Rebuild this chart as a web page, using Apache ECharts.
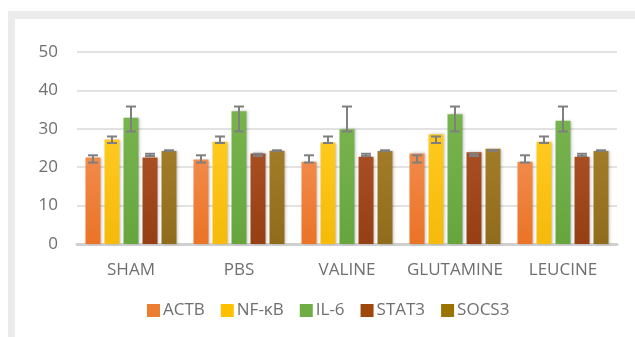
<!DOCTYPE html>
<html>
<head>
<meta charset="utf-8">
<script src="https://cdn.jsdelivr.net/npm/echarts@6/dist/echarts.min.js"></script>
<style>
  html, body { margin: 0; padding: 0; background: #fff; }
  #chart { width: 635px; height: 337px; }
</style>
</head>
<body>
<div id="chart"></div>
<script>
// 分组
var categories = ['SHAM', 'PBS', 'VALINE', 'GLUTAMINE', 'LEUCINE'];
// 系列名称
var seriesNames = ['ACTB', 'NF-κB', 'IL-6', 'STAT3', 'SOCS3'];
// 各系列数值
var actb  = [22.5, 22.0, 21.4, 23.6, 21.4];
var nfkb  = [27.2, 26.6, 26.4, 28.6, 26.6];
var il6   = [32.9, 34.6, 29.9, 33.8, 32.1];
var stat3 = [22.5, 23.6, 22.7, 23.9, 22.7];
var socs3 = [24.2, 24.3, 24.2, 24.8, 24.2];
// 误差线（下端 / 上端）
var actbLow  = [21.2, 21.2, 21.2, 21.2, 21.2];
var actbHigh = [23.1, 23.1, 23.1, 23.1, 23.1];
var nfkbLow  = [26.3, 26.3, 26.3, 26.3, 26.3];
var nfkbHigh = [28.0, 28.0, 28.0, 28.0, 28.0];
var il6Low   = [29.3, 29.3, 29.3, 29.3, 29.3];
var il6High  = [35.8, 35.8, 35.8, 35.8, 35.8];
var stat3Low  = [22.9, 22.9, 22.9, 22.9, 22.9];
var stat3High = [23.5, 23.5, 23.5, 23.5, 23.5];
var socs3Low  = [24.2, 24.2, 24.2, 24.2, 24.2];
var socs3High = [24.4, 24.4, 24.4, 24.4, 24.4];
// 纵轴刻度
var yTicks = [0, 10, 20, 30, 40, 50];

var values = [actb, nfkb, il6, stat3, socs3];
var lows = [actbLow, nfkbLow, il6Low, stat3Low, socs3Low];
var highs = [actbHigh, nfkbHigh, il6High, stat3High, socs3High];
var colors = [
  ['#F28A4A', '#EA7326'],
  ['#FFC91E', '#F5BA0A'],
  ['#78B44E', '#66A53E'],
  ['#A84E22', '#963F14'],
  ['#A27C28', '#8F6C1C']
];
var legendColors = ['#ED7D31', '#FFC000', '#70AD47', '#9E480E', '#997300'];

var BAR_W = 15, BAR_GAP = 4;
var FONT = '"Open Sans", sans-serif';
var TXT = '#6F6F6F';

var chart = echarts.init(document.getElementById('chart'), null, { renderer: 'canvas' });

var series = [];
values.forEach(function (arr, i) {
  series.push({
    name: seriesNames[i],
    type: 'bar',
    data: arr,
    barWidth: BAR_W,
    barGap: (BAR_GAP / BAR_W * 100) + '%',
    itemStyle: {
      color: new echarts.graphic.LinearGradient(0, 0, 0, 1, [
        { offset: 0, color: colors[i][0] },
        { offset: 1, color: colors[i][1] }
      ]),
      shadowColor: 'rgba(0,0,0,0.25)',
      shadowBlur: 3,
      shadowOffsetX: 1
    },
    emphasis: { disabled: true },
    z: 2
  });
});

// 误差线
series.push({
  type: 'custom',
  name: 'err',
  z: 5,
  silent: true,
  data: (function () {
    var d = [];
    for (var s = 0; s < 5; s++) {
      for (var c = 0; c < categories.length; c++) {
        d.push([c, lows[s][c], highs[s][c], s]);
      }
    }
    return d;
  })(),
  renderItem: function (params, api) {
    var c = api.value(0), s = api.value(3);
    var total = 5 * BAR_W + 4 * BAR_GAP;
    var off = -total / 2 + BAR_W / 2 + s * (BAR_W + BAR_GAP);
    var lo = api.coord([c, api.value(1)]);
    var hi = api.coord([c, api.value(2)]);
    var x = lo[0] + off;
    var half = 5;
    var st = { stroke: '#7F7F7F', lineWidth: 2 };
    return {
      type: 'group',
      children: [
        { type: 'line', shape: { x1: x, y1: lo[1], x2: x, y2: hi[1] }, style: st },
        { type: 'line', shape: { x1: x - half, y1: lo[1], x2: x + half, y2: lo[1] }, style: st },
        { type: 'line', shape: { x1: x - half, y1: hi[1], x2: x + half, y2: hi[1] }, style: st }
      ]
    };
  }
});

chart.setOption({
  animation: false,
  backgroundColor: '#fff',
  textStyle: { fontFamily: FONT },
  graphic: [
    { type: 'rect', z: -10, shape: { x: 8, y: 11, width: 627, height: 8 }, style: { fill: '#EBEBEB' } },
    { type: 'rect', z: -10, shape: { x: 8, y: 11, width: 7, height: 326 }, style: { fill: '#EBEBEB' } }
  ],
  legend: {
    data: seriesNames.map(function (n, i) {
      return { name: n, itemStyle: { color: legendColors[i] } };
    }),
    left: 147,
    top: 302,
    padding: 0,
    icon: 'rect',
    itemWidth: 13,
    itemHeight: 13,
    itemGap: 16,
    textStyle: { color: TXT, fontSize: 17, fontFamily: FONT, padding: [0, 0, 0, -2] }
  },
  grid: { left: 77, right: 18, top: 52, bottom: 93, outerBoundsMode: 'none' },
  xAxis: {
    type: 'category',
    data: categories,
    axisLine: { lineStyle: { color: '#D0D0D0', width: 3 } },
    axisTick: { show: false },
    axisLabel: { color: TXT, fontSize: 17, margin: 18, interval: 0, fontFamily: FONT }
  },
  yAxis: {
    type: 'value',
    min: yTicks[0],
    max: yTicks[yTicks.length - 1],
    interval: yTicks[1] - yTicks[0],
    axisLine: { show: false },
    axisTick: { show: false },
    axisLabel: { color: TXT, fontSize: 17, margin: 19, fontFamily: FONT },
    splitLine: { lineStyle: { color: '#D9D9D9', width: 1.5 } }
  },
  series: series
});
</script>
</body>
</html>
